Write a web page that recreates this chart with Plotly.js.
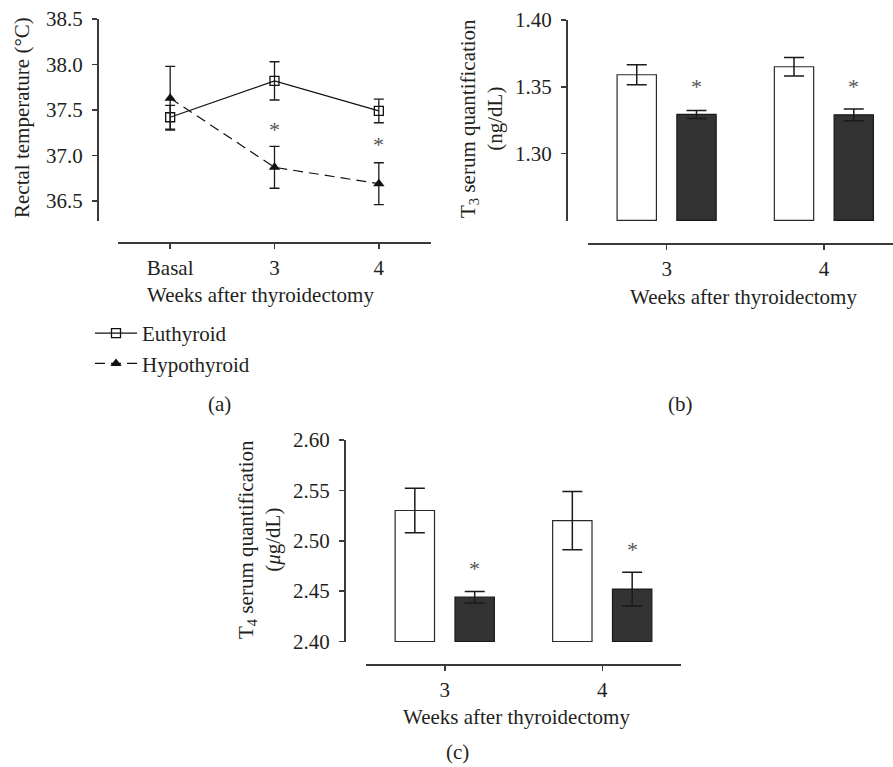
<!DOCTYPE html>
<html><head><meta charset="utf-8">
<script src="https://cdn.plot.ly/plotly-3.0.1.min.js"></script>
<style>html,body{margin:0;padding:0;background:#fff}</style>
</head><body><div id="chart" style="width:893px;height:767px"></div>
<script>
// ---------- data ----------
const tempWeeks = ['Basal', '3', '4'];
const euTemp = [37.42, 37.82, 37.49];
const euTempErr = [0.13, 0.21, 0.13];
const hypoTemp = [37.63, 36.87, 36.69];
const hypoTempErr = [0.35, 0.23, 0.23];
const starWeeks = ['3', '4'];
const tempStarY = [37.33, 37.17];

const hormoneWeeks = ['3', '4'];
const euT3 = [1.359, 1.365];
const euT3Err = [0.0075, 0.007];
const hypoT3 = [1.3293, 1.329];
const hypoT3Err = [0.003, 0.0044];
const t3StarY = [1.353, 1.353];

const euT4 = [2.530, 2.520];
const euT4Err = [0.022, 0.029];
const hypoT4 = [2.444, 2.452];
const hypoT4Err = [0.0057, 0.0167];
const t4StarY = [2.476, 2.495];

const tempTicks = [36.5, 37.0, 37.5, 38.0, 38.5];
const t3Ticks = [1.30, 1.35, 1.40];
const t4Ticks = [2.40, 2.45, 2.50, 2.55, 2.60];

// ---------- style ----------
const W = 893, H = 767;
const FONT = '"Liberation Serif", "Times New Roman", serif';
const TXT = '#231f20';
const AX = '#3a3a3a';
const px = v => v / W;
const py = v => 1 - v / H;
const T3_BASE = 1.25, T4_BASE = 2.40;
const BW = 0.25, OFF = 0.19;
const FS = 21;

const axisBase = {
  showline: true, linecolor: AX, linewidth: 1.5,
  ticks: 'outside', ticklen: 5, tickwidth: 1.5, tickcolor: AX,
  showgrid: false, zeroline: false, fixedrange: true,
  tickfont: {family: FONT, size: FS, color: TXT}
};
const errStyle = (arr, w, th) => ({type: 'data', array: arr, visible: true, color: '#1a1a1a', thickness: th, width: w});

const traces = [
  {type: 'scatter', mode: 'lines+markers', name: 'Euthyroid', x: tempWeeks, y: euTemp,
   xaxis: 'x', yaxis: 'y',
   line: {color: '#111', width: 1.2},
   marker: {symbol: 'square-open', size: 9, color: '#111', line: {width: 1.3, color: '#111'}},
   error_y: errStyle(euTempErr, 5, 1.3)},
  {type: 'scatter', mode: 'lines+markers', name: 'Hypothyroid', x: tempWeeks, y: hypoTemp,
   xaxis: 'x', yaxis: 'y',
   line: {color: '#111', width: 1.2, dash: '10px,6px'},
   marker: {symbol: 'triangle-up', size: 10, color: '#111'},
   error_y: errStyle(hypoTempErr, 5, 1.3)},

  {type: 'bar', x: hormoneWeeks, y: euT3.map(v => v - T3_BASE), base: T3_BASE,
   xaxis: 'x2', yaxis: 'y2', width: BW, offset: -OFF - BW / 2, showlegend: false,
   marker: {color: '#ffffff', line: {color: '#2a2a2a', width: 1.2}},
   error_y: errStyle(euT3Err, 10, 1.5)},
  {type: 'bar', x: hormoneWeeks, y: hypoT3.map(v => v - T3_BASE), base: T3_BASE,
   xaxis: 'x2', yaxis: 'y2', width: BW, offset: OFF - BW / 2, showlegend: false,
   marker: {color: '#333333', line: {color: '#1a1a1a', width: 1.2}},
   error_y: errStyle(hypoT3Err, 10, 1.5)},

  {type: 'bar', x: hormoneWeeks, y: euT4.map(v => v - T4_BASE), base: T4_BASE,
   xaxis: 'x3', yaxis: 'y3', width: BW, offset: -OFF - BW / 2, showlegend: false,
   marker: {color: '#ffffff', line: {color: '#2a2a2a', width: 1.2}},
   error_y: errStyle(euT4Err, 10, 1.5)},
  {type: 'bar', x: hormoneWeeks, y: hypoT4.map(v => v - T4_BASE), base: T4_BASE,
   xaxis: 'x3', yaxis: 'y3', width: BW, offset: OFF - BW / 2, showlegend: false,
   marker: {color: '#333333', line: {color: '#1a1a1a', width: 1.2}},
   error_y: errStyle(hypoT4Err, 10, 1.5)}
];

const star = (x, y, xr, yr, xshift) => ({
  x: x, y: y, xref: xr, yref: yr, text: '*', showarrow: false,
  xshift: xshift, yshift: -4, yanchor: 'middle',
  font: {family: FONT, size: 22, color: '#555'}
});
const label = (text, x, y, angle, size) => ({
  text: text, x: px(x), y: py(y), xref: 'paper', yref: 'paper', showarrow: false,
  textangle: angle || 0, xanchor: 'center', yanchor: 'middle',
  font: {family: FONT, size: size || FS, color: TXT}
});

const annotations = [];
starWeeks.forEach((w, i) => annotations.push(star(tempWeeks.indexOf(w), tempStarY[i], 'x', 'y', 0)));
hormoneWeeks.forEach((w, i) => annotations.push(star(i, t3StarY[i], 'x2', 'y2', OFF * 157)));
hormoneWeeks.forEach((w, i) => annotations.push(star(i, t4StarY[i], 'x3', 'y3', OFF * 156.7)));

annotations.push(
  label('Rectal temperature (°C)', 22, 118, -90),
  label('Weeks after thyroidectomy', 260, 295),
  label('T<sub>3</sub> serum quantification<br>(ng/dL)', 481, 118, -90),
  label('Weeks after thyroidectomy', 743, 297),
  label('T<sub>4</sub> serum quantification<br>(<i>μ</i>g/dL)', 259, 540, -90),
  label('Weeks after thyroidectomy', 516, 717),
  label('(a)', 219, 404),
  label('(b)', 680, 404),
  label('(c)', 458, 752)
);

const layout = {
  width: W, height: H,
  margin: {l: 0, r: 0, t: 0, b: 0},
  paper_bgcolor: '#fff', plot_bgcolor: 'rgba(0,0,0,0)',
  barmode: 'overlay',
  font: {family: FONT, color: TXT},
  showlegend: true,
  legend: {x: px(90), y: py(313), xanchor: 'left', yanchor: 'top',
           font: {family: FONT, size: FS, color: TXT}, bgcolor: 'rgba(0,0,0,0)',
           itemwidth: 42, tracegroupgap: 0},
  xaxis: Object.assign({}, axisBase, {type: 'category', domain: [px(118), px(431)], range: [-0.5, 2.5],
          anchor: 'free', position: py(242), ticklabelstandoff: 1}),
  yaxis: Object.assign({}, axisBase, {domain: [py(221), py(19)], range: [36.28, 38.5],
          anchor: 'free', position: px(97), tickvals: tempTicks, tickformat: '.1f', ticklabelstandoff: 5}),
  xaxis2: Object.assign({}, axisBase, {type: 'category', domain: [px(588), 1], range: [-0.5, (893 - 667) / 157],
          anchor: 'free', position: py(243), ticklabelstandoff: 1}),
  yaxis2: Object.assign({}, axisBase, {domain: [py(221), py(20)], range: [1.2495, 1.40],
          anchor: 'free', position: px(566), tickvals: t3Ticks, tickformat: '.2f', ticklabelstandoff: 5}),
  xaxis3: Object.assign({}, axisBase, {type: 'category', domain: [px(366), px(681)], range: [-0.5, 1.5],
          anchor: 'free', position: py(664), ticklabelstandoff: 1}),
  yaxis3: Object.assign({}, axisBase, {domain: [py(642), py(440)], range: [2.3995, 2.60],
          anchor: 'free', position: px(344), tickvals: t4Ticks, tickformat: '.2f', ticklabelstandoff: 5}),
  annotations: annotations
};

Plotly.newPlot('chart', traces, layout, {staticPlot: true, displayModeBar: false});
</script></body></html>
